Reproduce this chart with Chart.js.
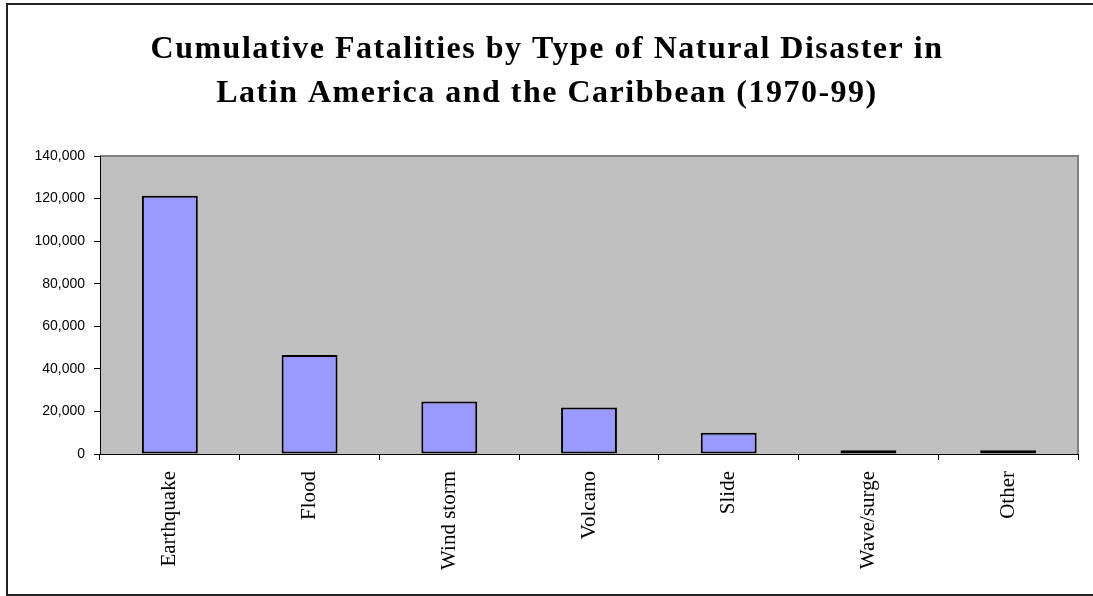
<!DOCTYPE html>
<html>
<head>
<meta charset="utf-8">
<script src="https://cdn.jsdelivr.net/npm/chart.js@4.4.1/dist/chart.umd.min.js"></script>
<style>
  html, body { margin: 0; padding: 0; background: #fff; }
  #wrap { width: 1093px; height: 596px; position: relative; }
</style>
</head>
<body>
<div id="wrap"><canvas id="grafica"></canvas></div>
<script>
// Datos
const categorias = ['Earthquake', 'Flood', 'Wind storm', 'Volcano', 'Slide', 'Wave/surge', 'Other'];
const muertes    = [121300, 46500, 24700, 21900, 10000, 1800, 1800];
const tituloLineas = ['Cumulative Fatalities by Type of Natural Disaster in', 'Latin America and the Caribbean (1970-99)'];
const ejeYMax  = 140000;
const ejeYPaso = 20000;

// Marco, fondo gris del área de trazado y título
const marcoPlugin = {
  id: 'marco',
  beforeDraw(chart) {
    const { ctx, chartArea: a } = chart;
    ctx.save();
    ctx.fillStyle = '#fff';
    ctx.fillRect(0, 0, chart.width, chart.height);
    ctx.strokeStyle = '#222';
    ctx.lineWidth = 2;
    ctx.strokeRect(7, 4, chart.width + 10, chart.height - 5);
    ctx.fillStyle = '#C0C0C0';
    ctx.fillRect(a.left, a.top, a.right - a.left, a.bottom - a.top);
    ctx.strokeStyle = '#808080';
    ctx.lineWidth = 2;
    ctx.beginPath();
    ctx.moveTo(a.left, a.top);
    ctx.lineTo(a.right, a.top);
    ctx.lineTo(a.right, a.bottom);
    ctx.stroke();
    ctx.restore();
  },
  afterDraw(chart) {
    const { ctx } = chart;
    ctx.save();
    ctx.fillStyle = '#000';
    ctx.font = 'bold 32px "Liberation Serif", "Times New Roman", serif';
    ctx.letterSpacing = '1.5px';
    ctx.textAlign = 'center';
    ctx.textBaseline = 'alphabetic';
    ctx.fillText(tituloLineas[0], 547, 58);
    ctx.fillText(tituloLineas[1], 547, 102);
    ctx.restore();
  }
};

const ctx = document.getElementById('grafica').getContext('2d');
new Chart(ctx, {
  type: 'bar',
  data: {
    labels: categorias,
    datasets: [{
      data: muertes,
      backgroundColor: '#9999FF',
      borderColor: '#000',
      borderWidth: 2,
      borderSkipped: false,
      barPercentage: 0.4,
      categoryPercentage: 1
    }]
  },
  options: {
    responsive: true,
    maintainAspectRatio: false,
    animation: false,
    layout: { padding: { top: 156, right: 15, bottom: 0, left: 0 } },
    plugins: { legend: { display: false }, tooltip: { enabled: false } },
    scales: {
      x: {
        grid: { drawOnChartArea: false, drawTicks: true, tickLength: 6, color: '#000', offset: true },
        border: { color: '#000', width: 1 },
        ticks: {
          color: '#000',
          minRotation: 90, maxRotation: 90,
          padding: 11,
          font: { family: '"Liberation Serif", "Times New Roman", serif', size: 21 }
        },
        afterFit(scale) { scale.height = 142; }
      },
      y: {
        min: 0, max: ejeYMax,
        grid: { drawOnChartArea: false, drawTicks: true, tickLength: 6, color: '#000' },
        border: { color: '#000', width: 1 },
        ticks: {
          stepSize: ejeYPaso,
          color: '#000',
          padding: 9,
          font: { family: '"Liberation Sans", Arial, sans-serif', size: 14 }
        },
        afterFit(scale) { scale.width = 100; }
      }
    }
  },
  plugins: [marcoPlugin]
});
</script>
</body>
</html>
